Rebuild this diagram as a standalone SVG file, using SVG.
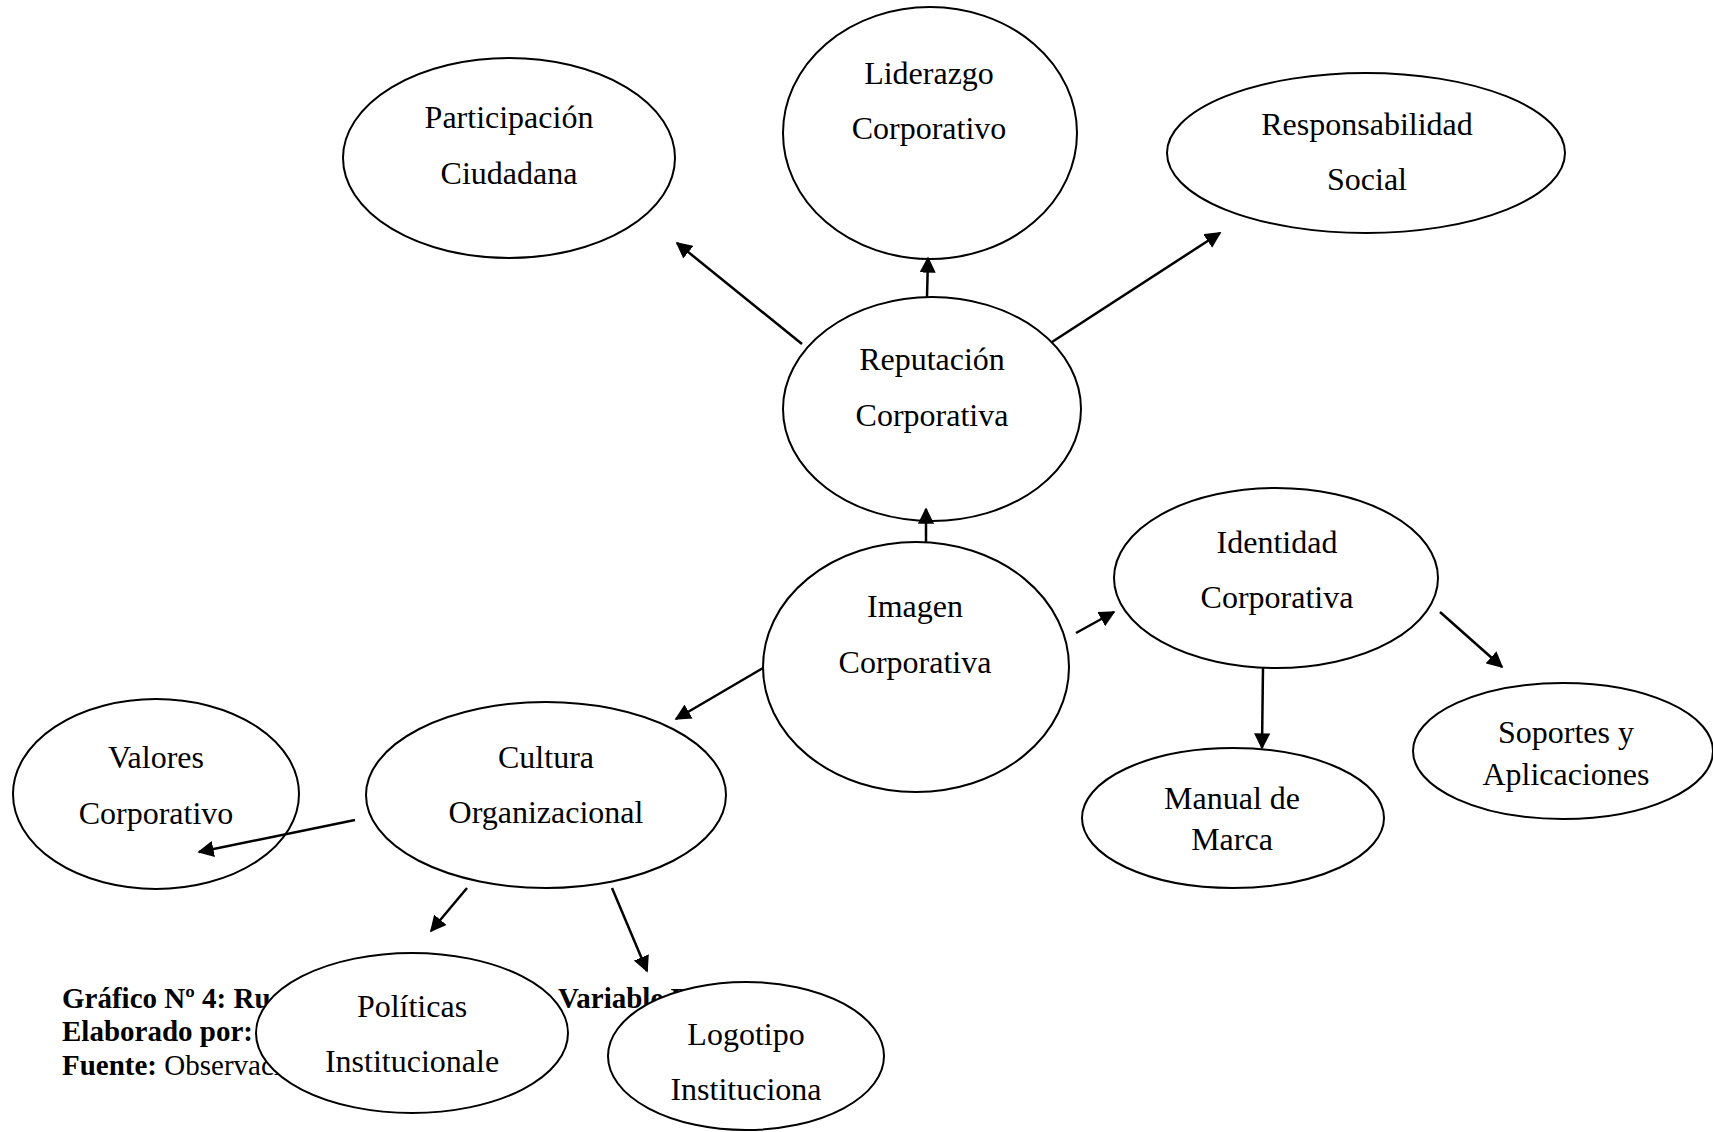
<svg xmlns="http://www.w3.org/2000/svg" width="1713" height="1132" viewBox="0 0 1713 1132">
<style>
.n{fill:#fff;stroke:#000;stroke-width:2}
.t{font-family:"Liberation Serif","Times New Roman",serif;font-size:32px;fill:#000;text-anchor:middle}
.c{font-family:"Liberation Serif","Times New Roman",serif;font-size:29px;fill:#000}
.b{font-weight:bold}
.e{stroke:#000;stroke-width:2.5;fill:none;marker-end:url(#ah)}
</style>
<defs>
<marker id="ah" viewBox="0 0 10 10" refX="9" refY="5" markerWidth="6.5" markerHeight="6.5" orient="auto" markerUnits="strokeWidth">
<path d="M0,0 L10,5 L0,10 z" fill="#000"/>
</marker>
</defs>
<rect width="1713" height="1132" fill="#fff"/>
<g id="caption">
<text class="c b" x="62" y="1008">Gráfico Nº 4: Ru</text>
<text class="c b" x="558" y="1008">Variable D</text>
<text class="c b" x="62" y="1041">Elaborado por:</text>
<text class="c" x="62" y="1075"><tspan class="b">Fuente:</tspan> Observaci</text>
</g>
<g id="participacion"><ellipse class="n" cx="509" cy="158" rx="166" ry="100"/><text class="t" x="509" y="128">Participación</text><text class="t" x="509" y="184">Ciudadana</text></g>
<g id="liderazgo"><ellipse class="n" cx="930" cy="133" rx="147" ry="126"/><text class="t" x="929" y="84">Liderazgo</text><text class="t" x="929" y="139">Corporativo</text></g>
<g id="responsabilidad"><ellipse class="n" cx="1366" cy="153" rx="199" ry="80"/><text class="t" x="1367" y="135">Responsabilidad</text><text class="t" x="1367" y="190">Social</text></g>
<g id="reputacion"><ellipse class="n" cx="932" cy="409" rx="149" ry="112"/><text class="t" x="932" y="370">Reputación</text><text class="t" x="932" y="426">Corporativa</text></g>
<g id="imagen"><ellipse class="n" cx="916" cy="667" rx="153" ry="125"/><text class="t" x="915" y="617">Imagen</text><text class="t" x="915" y="673">Corporativa</text></g>
<g id="identidad"><ellipse class="n" cx="1276" cy="578" rx="162" ry="90"/><text class="t" x="1277" y="553">Identidad</text><text class="t" x="1277" y="608">Corporativa</text></g>
<g id="cultura"><ellipse class="n" cx="546" cy="795" rx="180" ry="93"/><text class="t" x="546" y="768">Cultura</text><text class="t" x="546" y="823">Organizacional</text></g>
<g id="valores"><ellipse class="n" cx="156" cy="794" rx="143" ry="95"/><text class="t" x="156" y="768">Valores</text><text class="t" x="156" y="824">Corporativo</text></g>
<g id="manual"><ellipse class="n" cx="1233" cy="818" rx="151" ry="70"/><text class="t" x="1232" y="809">Manual de</text><text class="t" x="1232" y="850">Marca</text></g>
<g id="soportes"><ellipse class="n" cx="1563" cy="751" rx="150" ry="68"/><text class="t" x="1566" y="743">Soportes y</text><text class="t" x="1566" y="785">Aplicaciones</text></g>
<g id="politicas"><ellipse class="n" cx="412" cy="1033" rx="156" ry="80"/><text class="t" x="412" y="1017">Políticas</text><text class="t" x="412" y="1072">Institucionale</text></g>
<g id="logotipo"><ellipse class="n" cx="746" cy="1056" rx="138" ry="74"/><text class="t" x="746" y="1045">Logotipo</text><text class="t" x="746" y="1100">Instituciona</text></g>
<g id="connectors">
<line class="e" x1="802" y1="344" x2="677" y2="243"/>
<line class="e" x1="927" y1="297" x2="928" y2="258"/>
<line class="e" x1="1052" y1="342" x2="1220" y2="233"/>
<line class="e" x1="926" y1="542" x2="926" y2="509"/>
<line class="e" x1="1076" y1="633" x2="1114" y2="612"/>
<line class="e" x1="763" y1="668" x2="676" y2="719"/>
<line class="e" x1="1263" y1="667" x2="1262" y2="748"/>
<line class="e" x1="1440" y1="612" x2="1502" y2="667"/>
<line class="e" x1="355" y1="820" x2="199" y2="852"/>
<line class="e" x1="467" y1="888" x2="431" y2="931"/>
<line class="e" x1="612" y1="888" x2="647" y2="971"/>
</g>
</svg>
